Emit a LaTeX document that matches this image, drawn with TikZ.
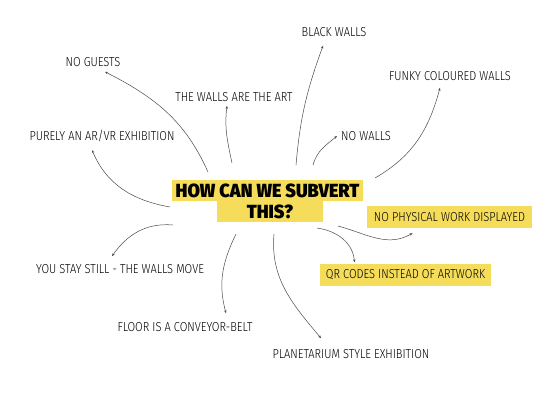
\documentclass[tikz,border=0pt]{standalone}
\usepackage{fontspec}
\newfontfamily\lblfont{Fira Sans Light}[FakeStretch=0.85]
\newfontfamily\ttlfont{Fira Sans Black}[FakeStretch=0.95]
\usetikzlibrary{arrows.meta}
\definecolor{hlyellow}{HTML}{F5DC5A}
\definecolor{linkgray}{HTML}{4A4A4A}
\tikzset{
  idea/.style={font=\lblfont\fontsize{13}{15}\selectfont, inner sep=2pt},
  hlidea/.style={idea, fill=hlyellow, minimum height=22pt, inner xsep=6pt},
  titlebox/.style={fill=hlyellow, font=\ttlfont\fontsize{19}{21}\selectfont, inner sep=0pt, minimum height=21.5pt},
  link/.style={draw=linkgray, line width=0.5pt, -{Stealth[length=3pt,width=2.4pt]}}
}
\begin{document}
\begin{tikzpicture}[x=1pt, y=1pt]
\useasboundingbox[fill=white] (0,0) rectangle (540,-404);
% central question
\node[titlebox, minimum width=191pt] (title1) at (267.5,-190.5) {HOW CAN WE SUBVERT};
\node[titlebox, minimum width=106pt] (title2) at (270,-211.5) {THIS?};
% ideas
\node[idea] (black) at (334,-32) {BLACK WALLS};
\node[idea] (guests) at (93,-62) {NO GUESTS};
\node[idea] (funky) at (450,-76) {FUNKY COLOURED WALLS};
\node[idea] (wallsart) at (234,-97) {THE WALLS ARE THE ART};
\node[idea] (arvr) at (102,-136) {PURELY AN AR/VR EXHIBITION};
\node[idea] (nowalls) at (366,-136) {NO WALLS};
\node[hlidea, minimum width=165pt] (nophys) at (449.5,-217) {NO PHYSICAL WORK DISPLAYED};
\node[hlidea, minimum width=165pt] (qr) at (405.5,-274.5) {QR CODES INSTEAD OF ARTWORK};
\node[idea] (still) at (120,-269) {YOU STAY STILL - THE WALLS MOVE};
\node[idea] (floor) at (185,-327) {FLOOR IS A CONVEYOR-BELT};
\node[idea] (planet) at (351,-354) {PLANETARIUM STYLE EXHIBITION};
% where the links leave the question
\coordinate (s-guests) at (208,-172);
\coordinate (s-wallsart) at (232,-163);
\coordinate (s-arvr) at (170,-207);
\coordinate (s-black) at (296,-165);
\coordinate (s-nowalls) at (313,-165);
\coordinate (s-funky) at (375,-178);
\coordinate (s-nophys) at (338,-226);
\coordinate (s-qr) at (317,-228);
\coordinate (s-still) at (173,-225);
\coordinate (s-floor) at (236,-234);
\coordinate (s-planet) at (274,-234);
% links
\draw[link] (s-guests) to[out=114, in=-27] ([xshift=12pt, yshift=-3pt]guests.south);
\draw[link] (s-wallsart) to[out=102, in=-97] ([xshift=-7pt, yshift=-2pt]wallsart.south);
\draw[link] (s-arvr) to[out=170, in=-67] ([xshift=-10pt, yshift=-6pt]arvr.south);
\draw[link] (s-black) to[out=85, in=-110] ([xshift=-11pt, yshift=-7pt]black.south);
\draw[link] (s-nowalls) to[out=75, in=-140] ([xshift=-2pt]nowalls.west);
\draw[link] (s-funky) to[out=30, in=-105] ([xshift=-10pt, yshift=-5pt]funky.south);
\draw[link] (s-nophys) to[out=-15, in=-150] ([xshift=-37pt, yshift=-5pt]nophys.south);
\draw[link] (s-qr) to[out=-8, in=95] ([xshift=-51pt, yshift=1pt]qr.north);
\draw[link] (s-still) to[out=175, in=55] ([xshift=-8pt, yshift=6pt]still.north);
\draw[link] (s-floor) to[out=-116, in=105] ([xshift=41pt, yshift=7pt]floor.north);
\draw[link] (s-planet) to[out=-95, in=130] ([xshift=-30pt, yshift=9pt]planet.north);
\end{tikzpicture}
\end{document}
